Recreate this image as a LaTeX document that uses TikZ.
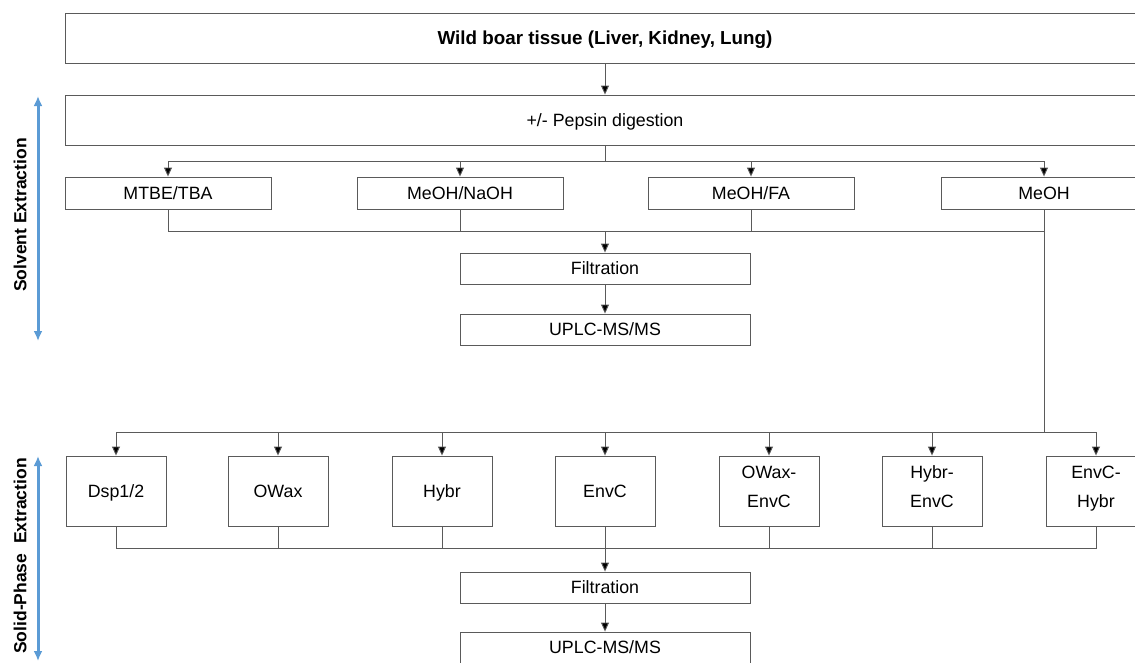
\documentclass[tikz,border=0pt]{standalone}
\usepackage{fontspec}
\setmainfont{Liberation Sans}
\usepackage{xcolor}
\usetikzlibrary{arrows.meta,positioning,calc}

\definecolor{linegray}{HTML}{5A5A5A}
\definecolor{sideblue}{HTML}{5B9BD5}

\tikzset{
  box/.style={draw=linegray, line width=0.9pt, fill=white, inner sep=0pt, align=center,
    text depth=0pt, font=\fontsize{17.8}{29}\selectfont},
  wide/.style={box, minimum width=1080pt, minimum height=50pt},
  solv/.style={box, minimum width=206pt, minimum height=32pt},
  mid/.style={box, minimum width=290pt, minimum height=31pt},
  spe/.style={box, minimum width=100pt, minimum height=70pt},
  twoline/.style={text depth=8pt},
  link/.style={draw=linegray, line width=0.9pt},
  flow/.style={link, -{Triangle[length=9pt,width=8pt,fill=black]}},
  side/.style={sideblue, line width=3pt, {Latex[length=10pt,width=9pt]}-{Latex[length=10pt,width=9pt]}},
  sidelabel/.style={rotate=90, font=\bfseries\fontsize{17.5}{20}\selectfont}
}

\begin{document}
\begin{tikzpicture}[x=1pt, y=-1pt]
        \useasboundingbox (0,0) rectangle (1135,662);
        \clip (0,0) rectangle (1135,662);

        % Sample and digestion
        \node[wide, font=\bfseries\fontsize{18.8}{22}\selectfont] (tissue) at (605,38) {Wild boar tissue (Liver, Kidney, Lung)};
        \node[wide] (pepsin) at (605,120) {+/- Pepsin digestion};

        % Solvent extraction
        \node[solv] (mtbe) at (168,193) {MTBE/TBA};
        \node[solv] (naoh) at (460,193) {MeOH/NaOH};
        \node[solv] (fa) at (751,193) {MeOH/FA};
        \node[solv] (meoh) at (1044,193) {MeOH};
        \node[mid] (filtA) at (605,268.5) {Filtration};
        \node[mid] (uplcA) at (605,329.5) {UPLC-MS/MS};

        % Solid-phase extraction
        \node[spe] (dsp) at (116,491) {Dsp1/2};
        \node[spe] (owax) at (278,491) {OWax};
        \node[spe] (hybr) at (442,491) {Hybr};
        \node[spe] (envc) at (605,491) {EnvC};
        \node[spe, twoline] (owaxenvc) at (769,491) {OWax-\\EnvC};
        \node[spe, twoline] (hybrenvc) at (932,491) {Hybr-\\EnvC};
        \node[spe, twoline] (envchybr) at (1096,491) {EnvC-\\Hybr};
        \node[mid] (filtB) at (605,587.5) {Filtration};
        \node[mid] (uplcB) at (605,647.5) {UPLC-MS/MS};

        \coordinate (splitA) at (605,161);
        \coordinate (joinA) at (605,231);
        \coordinate (splitB) at (1044,432);
        \coordinate (joinB) at (605,548);

        % connectors
        \draw[flow] (tissue) -- (pepsin);
        \draw[link] (pepsin) -- (splitA);
        \foreach \n in {mtbe,naoh,fa,meoh} {
            \draw[flow] (splitA) -| (\n);
            \draw[link] (\n) |- (joinA);
        }
        \draw[flow] (joinA) -- (filtA);
        \draw[flow] (filtA) -- (uplcA);

        \draw[link] (meoh) -- (splitB);
        \foreach \n in {dsp,owax,hybr,envc,owaxenvc,hybrenvc,envchybr} {
            \draw[flow] (splitB) -| (\n);
            \draw[link] (\n) |- (joinB);
        }
        \draw[flow] (joinB) -- (filtB);
        \draw[flow] (filtB) -- (uplcB);

        % side markers
        \coordinate (solvTop) at (38,96);
        \coordinate (solvBot) at (38,341);
        \coordinate (speTop) at (38,456);
        \coordinate (speBot) at (38,661);
        \draw[side] (solvTop) -- (solvBot);
        \draw[side] (speTop) -- (speBot);
        \node[sidelabel] (solvlabel) at (20,215) {Solvent Extraction};
        \node[sidelabel] (spelabel) at (20,556) {Solid-Phase\ \ Extraction};
    \end{tikzpicture}
\end{document}
